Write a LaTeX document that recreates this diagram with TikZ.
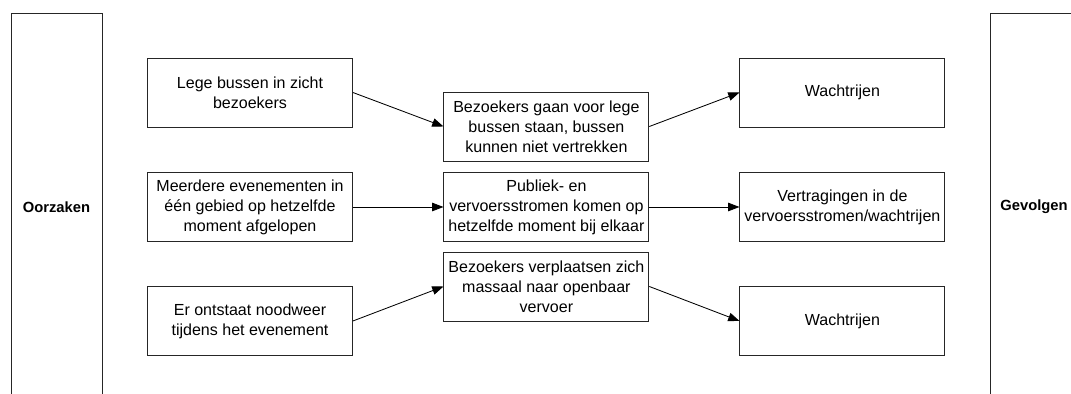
\documentclass[tikz,border=0pt]{standalone}
\usepackage{fontspec}
\setmainfont{Liberation Sans}
\usepackage{tikz}
\usetikzlibrary{positioning,arrows.meta}

\tikzset{
    blok/.style={draw=black!85, line width=0.6pt, minimum width=5.125cm,
        minimum height=1.725cm, align=center, inner sep=1pt,
        font=\fontsize{11.4}{14.2}\selectfont},
    kolom/.style={draw=black!85, line width=0.6pt, minimum height=9.7cm,
        font=\fontsize{10.5}{12.5}\selectfont\bfseries},
    pijl/.style={line width=0.6pt, -{Triangle[length=8pt,width=6pt]}}
}

\begin{document}
\begin{tikzpicture}

% --- Frame ---
\useasboundingbox (0,0) rectangle (26.775,9.85);
\clip (0,0) rectangle (26.775,9.85);

% --- Side columns ---
\node[kolom, minimum width=2.275cm] (oorz) at (1.4125,4.675) {Oorzaken};
\node[kolom, minimum width=2.2cm] (gevolg) at (25.85,4.675) {Gevolgen};

% --- Top row ---
\node[blok] (lege) at (6.25,7.5375) {Lege bussen in zicht\\bezoekers};
\node[blok] (bezoek) at (13.66,6.6875)
    {Bezoekers gaan voor lege\\bussen staan, bussen\\kunnen niet vertrekken};
\node[blok] (wacht1) at (21.06,7.5375) {Wachtrijen};

% --- Middle row ---
\node[blok] (meer) at (6.25,4.675)
    {Meerdere evenementen in\\één gebied op hetzelfde\\moment afgelopen};
\node[blok] (stroom) at (13.66,4.675)
    {Publiek- en\\vervoersstromen komen op\\hetzelfde moment bij elkaar};
\node[blok] (vertraag) at (21.06,4.675)
    {Vertragingen in de\\vervoersstromen/wachtrijen};

% --- Bottom row ---
\node[blok] (noodweer) at (6.25,1.825) {Er ontstaat noodweer\\tijdens het evenement};
\node[blok] (verplaats) at (13.66,2.6875)
    {Bezoekers verplaatsen zich\\massaal naar openbaar\\vervoer};
\node[blok] (wacht2) at (21.06,1.825) {Wachtrijen};

% --- Arrows ---
\foreach \a/\b in {lege/bezoek, bezoek/wacht1, meer/stroom, stroom/vertraag,
                   noodweer/verplaats, verplaats/wacht2} {
    \draw[pijl] (\a.east) -- (\b.west);
}

\end{tikzpicture}
\end{document}
